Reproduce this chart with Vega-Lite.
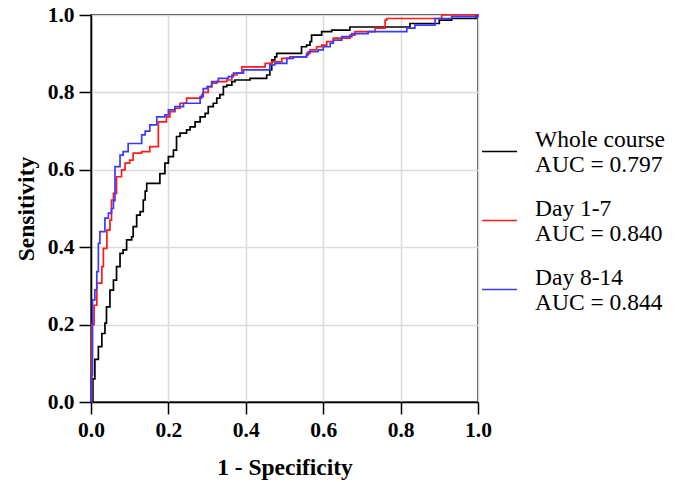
{
  "$schema": "https://vega.github.io/schema/vega-lite/v6.json",
  "width": 387,
  "height": 387,
  "autosize": "none",
  "padding": {"left": 91, "top": 15, "right": 202, "bottom": 80},
  "background": "white",
  "config": {
    "font": "Liberation Serif",
    "view": {"stroke": "black", "strokeWidth": 1.5},
    "axis": {
      "domainColor": "black",
      "domainWidth": 1.5,
      "tickColor": "black",
      "tickWidth": 1.5,
      "tickSize": 12,
      "gridColor": "#dcdcdc",
      "gridWidth": 1.6,
      "labelFont": "Liberation Serif",
      "labelFontWeight": "bold",
      "labelFontSize": 21.5,
      "labelColor": "black",
      "labelFlush": false,
      "labelPadding": 5,
      "titleFont": "Liberation Serif",
      "titleFontWeight": "bold",
      "titleFontSize": 23.5,
      "titleColor": "black"
    }
  },
  "data": {
    "values": [
      {"s": "Whole course|AUC = 0.797", "x": 0, "y": 0},
      {"s": "Whole course|AUC = 0.797", "x": 0.005, "y": 0.06},
      {"s": "Whole course|AUC = 0.797", "x": 0.01, "y": 0.11},
      {"s": "Whole course|AUC = 0.797", "x": 0.019, "y": 0.143},
      {"s": "Whole course|AUC = 0.797", "x": 0.028, "y": 0.177},
      {"s": "Whole course|AUC = 0.797", "x": 0.036, "y": 0.204},
      {"s": "Whole course|AUC = 0.797", "x": 0.04, "y": 0.246},
      {"s": "Whole course|AUC = 0.797", "x": 0.049, "y": 0.289},
      {"s": "Whole course|AUC = 0.797", "x": 0.058, "y": 0.315},
      {"s": "Whole course|AUC = 0.797", "x": 0.066, "y": 0.35},
      {"s": "Whole course|AUC = 0.797", "x": 0.075, "y": 0.384},
      {"s": "Whole course|AUC = 0.797", "x": 0.083, "y": 0.393},
      {"s": "Whole course|AUC = 0.797", "x": 0.092, "y": 0.419},
      {"s": "Whole course|AUC = 0.797", "x": 0.105, "y": 0.427},
      {"s": "Whole course|AUC = 0.797", "x": 0.109, "y": 0.453},
      {"s": "Whole course|AUC = 0.797", "x": 0.118, "y": 0.483},
      {"s": "Whole course|AUC = 0.797", "x": 0.127, "y": 0.492},
      {"s": "Whole course|AUC = 0.797", "x": 0.135, "y": 0.522},
      {"s": "Whole course|AUC = 0.797", "x": 0.14, "y": 0.545},
      {"s": "Whole course|AUC = 0.797", "x": 0.144, "y": 0.565},
      {"s": "Whole course|AUC = 0.797", "x": 0.178, "y": 0.59},
      {"s": "Whole course|AUC = 0.797", "x": 0.191, "y": 0.617},
      {"s": "Whole course|AUC = 0.797", "x": 0.2, "y": 0.634},
      {"s": "Whole course|AUC = 0.797", "x": 0.213, "y": 0.651},
      {"s": "Whole course|AUC = 0.797", "x": 0.221, "y": 0.686},
      {"s": "Whole course|AUC = 0.797", "x": 0.23, "y": 0.695},
      {"s": "Whole course|AUC = 0.797", "x": 0.247, "y": 0.703},
      {"s": "Whole course|AUC = 0.797", "x": 0.256, "y": 0.711},
      {"s": "Whole course|AUC = 0.797", "x": 0.269, "y": 0.724},
      {"s": "Whole course|AUC = 0.797", "x": 0.282, "y": 0.737},
      {"s": "Whole course|AUC = 0.797", "x": 0.295, "y": 0.746},
      {"s": "Whole course|AUC = 0.797", "x": 0.303, "y": 0.763},
      {"s": "Whole course|AUC = 0.797", "x": 0.316, "y": 0.772},
      {"s": "Whole course|AUC = 0.797", "x": 0.325, "y": 0.785},
      {"s": "Whole course|AUC = 0.797", "x": 0.333, "y": 0.794},
      {"s": "Whole course|AUC = 0.797", "x": 0.342, "y": 0.815},
      {"s": "Whole course|AUC = 0.797", "x": 0.351, "y": 0.819},
      {"s": "Whole course|AUC = 0.797", "x": 0.364, "y": 0.828},
      {"s": "Whole course|AUC = 0.797", "x": 0.372, "y": 0.832},
      {"s": "Whole course|AUC = 0.797", "x": 0.411, "y": 0.836},
      {"s": "Whole course|AUC = 0.797", "x": 0.454, "y": 0.845},
      {"s": "Whole course|AUC = 0.797", "x": 0.462, "y": 0.858},
      {"s": "Whole course|AUC = 0.797", "x": 0.467, "y": 0.884},
      {"s": "Whole course|AUC = 0.797", "x": 0.475, "y": 0.892},
      {"s": "Whole course|AUC = 0.797", "x": 0.48, "y": 0.901},
      {"s": "Whole course|AUC = 0.797", "x": 0.544, "y": 0.918},
      {"s": "Whole course|AUC = 0.797", "x": 0.557, "y": 0.922},
      {"s": "Whole course|AUC = 0.797", "x": 0.566, "y": 0.931},
      {"s": "Whole course|AUC = 0.797", "x": 0.57, "y": 0.948},
      {"s": "Whole course|AUC = 0.797", "x": 0.596, "y": 0.957},
      {"s": "Whole course|AUC = 0.797", "x": 0.622, "y": 0.961},
      {"s": "Whole course|AUC = 0.797", "x": 0.669, "y": 0.969},
      {"s": "Whole course|AUC = 0.797", "x": 0.824, "y": 0.978},
      {"s": "Whole course|AUC = 0.797", "x": 0.9, "y": 0.987},
      {"s": "Whole course|AUC = 0.797", "x": 0.932, "y": 0.991},
      {"s": "Whole course|AUC = 0.797", "x": 0.995, "y": 1.0},
      {"s": "Whole course|AUC = 0.797", "x": 1.0, "y": 1.0},

      {"s": "Day 1-7|AUC = 0.840", "x": 0, "y": 0},
      {"s": "Day 1-7|AUC = 0.840", "x": 0.002, "y": 0.2},
      {"s": "Day 1-7|AUC = 0.840", "x": 0.008, "y": 0.25},
      {"s": "Day 1-7|AUC = 0.840", "x": 0.015, "y": 0.307},
      {"s": "Day 1-7|AUC = 0.840", "x": 0.028, "y": 0.35},
      {"s": "Day 1-7|AUC = 0.840", "x": 0.032, "y": 0.397},
      {"s": "Day 1-7|AUC = 0.840", "x": 0.041, "y": 0.444},
      {"s": "Day 1-7|AUC = 0.840", "x": 0.049, "y": 0.47},
      {"s": "Day 1-7|AUC = 0.840", "x": 0.053, "y": 0.522},
      {"s": "Day 1-7|AUC = 0.840", "x": 0.058, "y": 0.539},
      {"s": "Day 1-7|AUC = 0.840", "x": 0.066, "y": 0.582},
      {"s": "Day 1-7|AUC = 0.840", "x": 0.079, "y": 0.6},
      {"s": "Day 1-7|AUC = 0.840", "x": 0.088, "y": 0.617},
      {"s": "Day 1-7|AUC = 0.840", "x": 0.1, "y": 0.625},
      {"s": "Day 1-7|AUC = 0.840", "x": 0.109, "y": 0.643},
      {"s": "Day 1-7|AUC = 0.840", "x": 0.131, "y": 0.647},
      {"s": "Day 1-7|AUC = 0.840", "x": 0.152, "y": 0.66},
      {"s": "Day 1-7|AUC = 0.840", "x": 0.174, "y": 0.724},
      {"s": "Day 1-7|AUC = 0.840", "x": 0.195, "y": 0.737},
      {"s": "Day 1-7|AUC = 0.840", "x": 0.204, "y": 0.75},
      {"s": "Day 1-7|AUC = 0.840", "x": 0.217, "y": 0.759},
      {"s": "Day 1-7|AUC = 0.840", "x": 0.23, "y": 0.772},
      {"s": "Day 1-7|AUC = 0.840", "x": 0.247, "y": 0.785},
      {"s": "Day 1-7|AUC = 0.840", "x": 0.286, "y": 0.794},
      {"s": "Day 1-7|AUC = 0.840", "x": 0.29, "y": 0.8},
      {"s": "Day 1-7|AUC = 0.840", "x": 0.303, "y": 0.815},
      {"s": "Day 1-7|AUC = 0.840", "x": 0.312, "y": 0.824},
      {"s": "Day 1-7|AUC = 0.840", "x": 0.325, "y": 0.828},
      {"s": "Day 1-7|AUC = 0.840", "x": 0.351, "y": 0.832},
      {"s": "Day 1-7|AUC = 0.840", "x": 0.364, "y": 0.845},
      {"s": "Day 1-7|AUC = 0.840", "x": 0.377, "y": 0.85},
      {"s": "Day 1-7|AUC = 0.840", "x": 0.39, "y": 0.866},
      {"s": "Day 1-7|AUC = 0.840", "x": 0.45, "y": 0.875},
      {"s": "Day 1-7|AUC = 0.840", "x": 0.467, "y": 0.879},
      {"s": "Day 1-7|AUC = 0.840", "x": 0.493, "y": 0.888},
      {"s": "Day 1-7|AUC = 0.840", "x": 0.514, "y": 0.892},
      {"s": "Day 1-7|AUC = 0.840", "x": 0.557, "y": 0.901},
      {"s": "Day 1-7|AUC = 0.840", "x": 0.566, "y": 0.91},
      {"s": "Day 1-7|AUC = 0.840", "x": 0.583, "y": 0.918},
      {"s": "Day 1-7|AUC = 0.840", "x": 0.596, "y": 0.922},
      {"s": "Day 1-7|AUC = 0.840", "x": 0.609, "y": 0.931},
      {"s": "Day 1-7|AUC = 0.840", "x": 0.626, "y": 0.94},
      {"s": "Day 1-7|AUC = 0.840", "x": 0.669, "y": 0.948},
      {"s": "Day 1-7|AUC = 0.840", "x": 0.682, "y": 0.957},
      {"s": "Day 1-7|AUC = 0.840", "x": 0.734, "y": 0.966},
      {"s": "Day 1-7|AUC = 0.840", "x": 0.76, "y": 0.987},
      {"s": "Day 1-7|AUC = 0.840", "x": 0.764, "y": 0.991},
      {"s": "Day 1-7|AUC = 0.840", "x": 0.906, "y": 1.0},
      {"s": "Day 1-7|AUC = 0.840", "x": 1.0, "y": 1.0},

      {"s": "Day 8-14|AUC = 0.844", "x": 0, "y": 0},
      {"s": "Day 8-14|AUC = 0.844", "x": 0.001, "y": 0.07},
      {"s": "Day 8-14|AUC = 0.844", "x": 0.004, "y": 0.264},
      {"s": "Day 8-14|AUC = 0.844", "x": 0.01, "y": 0.29},
      {"s": "Day 8-14|AUC = 0.844", "x": 0.015, "y": 0.337},
      {"s": "Day 8-14|AUC = 0.844", "x": 0.019, "y": 0.41},
      {"s": "Day 8-14|AUC = 0.844", "x": 0.023, "y": 0.44},
      {"s": "Day 8-14|AUC = 0.844", "x": 0.036, "y": 0.475},
      {"s": "Day 8-14|AUC = 0.844", "x": 0.045, "y": 0.488},
      {"s": "Day 8-14|AUC = 0.844", "x": 0.053, "y": 0.5},
      {"s": "Day 8-14|AUC = 0.844", "x": 0.058, "y": 0.52},
      {"s": "Day 8-14|AUC = 0.844", "x": 0.062, "y": 0.608},
      {"s": "Day 8-14|AUC = 0.844", "x": 0.075, "y": 0.638},
      {"s": "Day 8-14|AUC = 0.844", "x": 0.083, "y": 0.647},
      {"s": "Day 8-14|AUC = 0.844", "x": 0.096, "y": 0.668},
      {"s": "Day 8-14|AUC = 0.844", "x": 0.131, "y": 0.69},
      {"s": "Day 8-14|AUC = 0.844", "x": 0.14, "y": 0.7},
      {"s": "Day 8-14|AUC = 0.844", "x": 0.152, "y": 0.716},
      {"s": "Day 8-14|AUC = 0.844", "x": 0.17, "y": 0.737},
      {"s": "Day 8-14|AUC = 0.844", "x": 0.191, "y": 0.742},
      {"s": "Day 8-14|AUC = 0.844", "x": 0.2, "y": 0.755},
      {"s": "Day 8-14|AUC = 0.844", "x": 0.217, "y": 0.763},
      {"s": "Day 8-14|AUC = 0.844", "x": 0.239, "y": 0.772},
      {"s": "Day 8-14|AUC = 0.844", "x": 0.282, "y": 0.789},
      {"s": "Day 8-14|AUC = 0.844", "x": 0.29, "y": 0.81},
      {"s": "Day 8-14|AUC = 0.844", "x": 0.3, "y": 0.815},
      {"s": "Day 8-14|AUC = 0.844", "x": 0.312, "y": 0.828},
      {"s": "Day 8-14|AUC = 0.844", "x": 0.329, "y": 0.836},
      {"s": "Day 8-14|AUC = 0.844", "x": 0.355, "y": 0.841},
      {"s": "Day 8-14|AUC = 0.844", "x": 0.368, "y": 0.85},
      {"s": "Day 8-14|AUC = 0.844", "x": 0.394, "y": 0.858},
      {"s": "Day 8-14|AUC = 0.844", "x": 0.462, "y": 0.871},
      {"s": "Day 8-14|AUC = 0.844", "x": 0.475, "y": 0.875},
      {"s": "Day 8-14|AUC = 0.844", "x": 0.506, "y": 0.888},
      {"s": "Day 8-14|AUC = 0.844", "x": 0.523, "y": 0.892},
      {"s": "Day 8-14|AUC = 0.844", "x": 0.557, "y": 0.897},
      {"s": "Day 8-14|AUC = 0.844", "x": 0.561, "y": 0.905},
      {"s": "Day 8-14|AUC = 0.844", "x": 0.587, "y": 0.91},
      {"s": "Day 8-14|AUC = 0.844", "x": 0.6, "y": 0.918},
      {"s": "Day 8-14|AUC = 0.844", "x": 0.618, "y": 0.927},
      {"s": "Day 8-14|AUC = 0.844", "x": 0.626, "y": 0.935},
      {"s": "Day 8-14|AUC = 0.844", "x": 0.648, "y": 0.944},
      {"s": "Day 8-14|AUC = 0.844", "x": 0.674, "y": 0.952},
      {"s": "Day 8-14|AUC = 0.844", "x": 0.716, "y": 0.957},
      {"s": "Day 8-14|AUC = 0.844", "x": 0.816, "y": 0.966},
      {"s": "Day 8-14|AUC = 0.844", "x": 0.837, "y": 0.974},
      {"s": "Day 8-14|AUC = 0.844", "x": 0.889, "y": 0.991},
      {"s": "Day 8-14|AUC = 0.844", "x": 0.932, "y": 0.996},
      {"s": "Day 8-14|AUC = 0.844", "x": 1.0, "y": 1.0}
    ]
  },
  "mark": {"type": "line", "interpolate": "step-after", "strokeWidth": 1.7},
  "encoding": {
    "x": {
      "field": "x",
      "type": "quantitative",
      "scale": {"domain": [0, 1], "nice": false},
      "axis": {"title": "1 - Specificity", "values": [0, 0.2, 0.4, 0.6, 0.8, 1.0], "format": ".1f", "titlePadding": 15}
    },
    "y": {
      "field": "y",
      "type": "quantitative",
      "scale": {"domain": [0, 1], "nice": false},
      "axis": {"title": "Sensitivity", "values": [0, 0.2, 0.4, 0.6, 0.8, 1.0], "format": ".1f", "titlePadding": 9}
    },
    "color": {
      "field": "s",
      "type": "nominal",
      "sort": null,
      "scale": {
        "domain": ["Whole course|AUC = 0.797", "Day 1-7|AUC = 0.840", "Day 8-14|AUC = 0.844"],
        "range": ["#000000", "#ff1a1a", "#3a3aff"]
      },
      "legend": {
        "title": null,
        "orient": "none",
        "legendX": 390,
        "legendY": 118,
        "padding": 0,
        "symbolType": "stroke",
        "symbolSize": 1225,
        "symbolStrokeWidth": 1.6,
        "labelExpr": "split(datum.label, '|')",
        "labelFont": "Liberation Serif",
        "labelFontSize": 23.5,
        "labelColor": "black",
        "labelOffset": 17,
        "labelLimit": 300,
        "rowPadding": 20,
        "encode": {"labels": {"update": {"lineHeight": {"value": 25}, "dy": {"value": -12}}}}
      }
    }
  }
}
